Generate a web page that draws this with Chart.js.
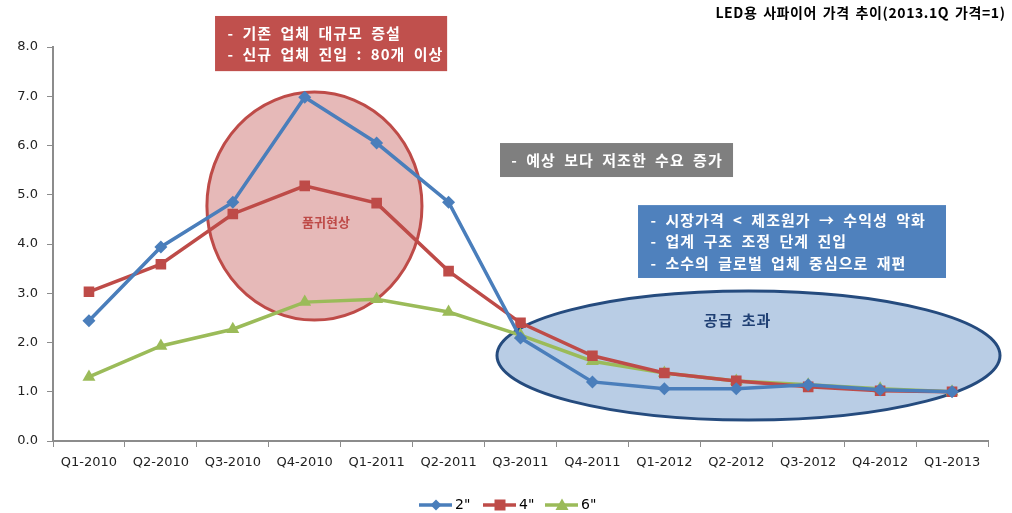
<!DOCTYPE html>
<html>
<head>
<meta charset="utf-8">
<script src="https://cdn.jsdelivr.net/npm/chart.js@4.4.1/dist/chart.umd.min.js"></script>
<style>
html,body{margin:0;padding:0;background:#fff;}
#wrap{width:1012px;height:513px;position:relative;}
</style>
</head>
<body>
<div id="wrap"><canvas id="c" width="1012" height="513"></canvas></div>
<script>
const categories = ['Q1-2010','Q2-2010','Q3-2010','Q4-2010','Q1-2011','Q2-2011','Q3-2011','Q4-2011','Q1-2012','Q2-2012','Q3-2012','Q4-2012','Q1-2013'];
const series2 = [2.44, 3.94, 4.85, 6.98, 6.05, 4.85, 2.09, 1.20, 1.06, 1.06, 1.14, 1.04, 1.00];
const series4 = [3.03, 3.59, 4.61, 5.18, 4.83, 3.45, 2.40, 1.73, 1.38, 1.22, 1.10, 1.02, 1.00];
const series6 = [1.30, 1.93, 2.27, 2.82, 2.88, 2.62, 2.15, 1.62, 1.38, 1.22, 1.14, 1.06, 1.00];
const seriesLabels = ['2"', '4"', '6"'];
const yTicks = [0,1,2,3,4,5,6,7,8];
const titleText = 'LED용 사파이어 가격 추이(2013.1Q 가격=1)';
const redBoxLines = ['- 기존 업체 대규모 증설', '- 신규 업체 진입 : 80개 이상'];
const grayBoxLines = ['- 예상 보다 저조한 수요 증가'];
const blueBoxLines = ['- 시장가격 < 제조원가 → 수익성 악화', '- 업계 구조 조정 단계 진입', '- 소수의 글로벌 업체 중심으로 재편'];
const redCircleText = '품귀현상';
const blueEllipseText = '공급 초과';

const KFONT = '"Noto Sans CJK KR", "Noto Sans", sans-serif';
const BLUE = '#4A7EBB', RED = '#BE4B48', GREEN = '#9BBB59';

function helpers(chart){
  const x = chart.scales.x, y = chart.scales.y;
  const x0 = x.getPixelForValue(0), dx = x.getPixelForValue(1) - x0;
  return {
    px: i => x0 + i*dx,
    py: v => y.getPixelForValue(v),
    sx: i => i*dx,
    sy: v => Math.abs(y.getPixelForValue(0) - y.getPixelForValue(v))
  };
}

// draw text with letter spacing (ls) and extra word spacing (ws)
function spacedText(ctx, s, x, y, align, ls, ws){
  const chars = Array.from(s);
  const adv = chars.map(c => ctx.measureText(c).width + ls + (c === ' ' ? ws : 0));
  const total = adv.reduce((a,b)=>a+b,0) - ls;
  let cx = align === 'center' ? x - total/2 : align === 'right' ? x - total : x;
  const old = ctx.textAlign;
  ctx.textAlign = 'left';
  chars.forEach((c,k) => { if (c !== ' ') ctx.fillText(c, cx, y); cx += adv[k]; });
  ctx.textAlign = old;
}

const annotationPlugin = {
  id: 'annot',
  beforeDatasetsDraw(chart){
    const ctx = chart.ctx, h = helpers(chart);
    ctx.save();
    ctx.beginPath();
    ctx.ellipse(h.px(3.135), h.py(4.77), h.sx(1.495), h.sy(2.315), 0, 0, Math.PI*2);
    ctx.fillStyle = '#E6B9B8';
    ctx.fill();
    ctx.lineWidth = 3;
    ctx.strokeStyle = '#BE4B48';
    ctx.stroke();
    ctx.beginPath();
    ctx.ellipse(h.px(9.17), h.py(1.736), h.sx(3.497), h.sy(1.31), 0, 0, Math.PI*2);
    ctx.fillStyle = '#B9CDE5';
    ctx.fill();
    ctx.lineWidth = 3;
    ctx.strokeStyle = '#254B7E';
    ctx.stroke();
    ctx.textBaseline = 'middle';
    ctx.font = 'bold 13px ' + KFONT;
    ctx.fillStyle = '#BE4B48';
    spacedText(ctx, redCircleText, h.px(3.295), h.py(4.45), 'center', 0, 0);
    ctx.font = 'bold 15px ' + KFONT;
    ctx.fillStyle = '#1F3F73';
    spacedText(ctx, blueEllipseText, h.px(9.01), h.py(2.46), 'center', 1, 4);
    ctx.restore();
  },
  afterDraw(chart){
    const ctx = chart.ctx, h = helpers(chart);
    ctx.save();
    function box(i1, i2, v1, v2, fill, lines, align, size){
      const l = h.px(i1), r = h.px(i2), t = h.py(v1), b = h.py(v2);
      ctx.fillStyle = fill;
      ctx.fillRect(l, t, r-l, b-t);
      ctx.fillStyle = '#fff';
      ctx.font = 'bold ' + size + 'px ' + KFONT;
      ctx.textBaseline = 'middle';
      const n = lines.length, cy = (t+b)/2, lh = 21.5;
      lines.forEach((s, k) => {
        const yy = cy + (k - (n-1)/2)*lh;
        if (align === 'center') spacedText(ctx, s, (l+r)/2, yy, 'center', 1, 4);
        else spacedText(ctx, s, l + 12.5, yy, 'left', 1, 4);
      });
    }
    box(1.753, 4.98, 8.63, 7.51, '#C0504D', redBoxLines, 'left', 15);
    box(5.715, 8.955, 6.05, 5.36, '#7F7F7F', grayBoxLines, 'center', 15);
    box(7.634, 11.916, 4.79, 3.31, '#4F81BD', blueBoxLines, 'left', 15);
    // title
    ctx.fillStyle = '#000';
    ctx.font = 'bold 14px ' + KFONT;
    ctx.textBaseline = 'middle';
    spacedText(ctx, titleText, 1005, 13, 'right', 0.6, 2);
    // legend
    const items = chart.data.datasets;
    const lx = [419, 483, 545];
    ctx.font = '14px "DejaVu Sans", sans-serif';
    const ly = 505;
    items.forEach((ds, k) => {
      const x0 = lx[k];
      ctx.strokeStyle = ds.borderColor;
      ctx.lineWidth = 3.5;
      ctx.beginPath(); ctx.moveTo(x0, ly); ctx.lineTo(x0+33, ly); ctx.stroke();
      ctx.fillStyle = ds.borderColor;
      const cx = x0+17;
      ctx.beginPath();
      if (ds.pointStyle === 'rectRot') { ctx.moveTo(cx, ly-5.5); ctx.lineTo(cx+5.5, ly); ctx.lineTo(cx, ly+5.5); ctx.lineTo(cx-5.5, ly); }
      else if (ds.pointStyle === 'rect') { ctx.rect(cx-5.5, ly-5.5, 11, 11); }
      else { ctx.moveTo(cx, ly-6.5); ctx.lineTo(cx+6.5, ly+5); ctx.lineTo(cx-6.5, ly+5); }
      ctx.closePath(); ctx.fill();
      ctx.fillStyle = '#000';
      ctx.textAlign = 'left';
      ctx.fillText(ds.label, x0+36, ly);
    });
    ctx.restore();
  }
};

new Chart(document.getElementById('c'), {
  type: 'line',
  data: {
    labels: categories,
    datasets: [
      { label: seriesLabels[0], data: series2, borderColor: BLUE, backgroundColor: BLUE, pointStyle: 'rectRot', pointRadius: 6.5, borderWidth: 3.5, pointBorderWidth: 0, tension: 0 },
      { label: seriesLabels[1], data: series4, borderColor: RED, backgroundColor: RED, pointStyle: 'rect', pointRadius: 7.5, borderWidth: 3.5, pointBorderWidth: 0, tension: 0 },
      { label: seriesLabels[2], data: series6, borderColor: GREEN, backgroundColor: GREEN, pointStyle: 'triangle', pointRadius: 7.5, borderWidth: 3.5, pointBorderWidth: 0, tension: 0 }
    ]
  },
  options: {
    responsive: false,
    animation: false,
    layout: { padding: { top: 47, right: 24, bottom: 0, left: 0 } },
    plugins: { legend: { display: false }, title: { display: false }, tooltip: { enabled: false } },
    scales: {
      x: {
        offset: true,
        afterFit: s => { s.height = 72; },
        grid: { offset: true, drawOnChartArea: false, drawTicks: true, tickLength: 6, color: '#8C8C8C', lineWidth: 1 },
        border: { color: '#8C8C8C', width: 2 },
        ticks: { color: '#222', font: { family: '"DejaVu Sans", sans-serif', size: 13 }, padding: 8, maxRotation: 0, autoSkip: false }
      },
      y: {
        min: 0, max: 8,
        afterFit: s => { s.width = 53; },
        afterBuildTicks: s => { s.ticks = yTicks.map(v => ({ value: v })); },
        grid: { drawOnChartArea: false, drawTicks: true, tickLength: 6, color: '#8C8C8C', lineWidth: 1 },
        border: { color: '#8C8C8C', width: 2 },
        ticks: { color: '#222', font: { family: '"DejaVu Sans", sans-serif', size: 13 }, padding: 9, callback: v => Number(v).toFixed(1) }
      }
    }
  },
  plugins: [annotationPlugin]
});
</script>
</body>
</html>
